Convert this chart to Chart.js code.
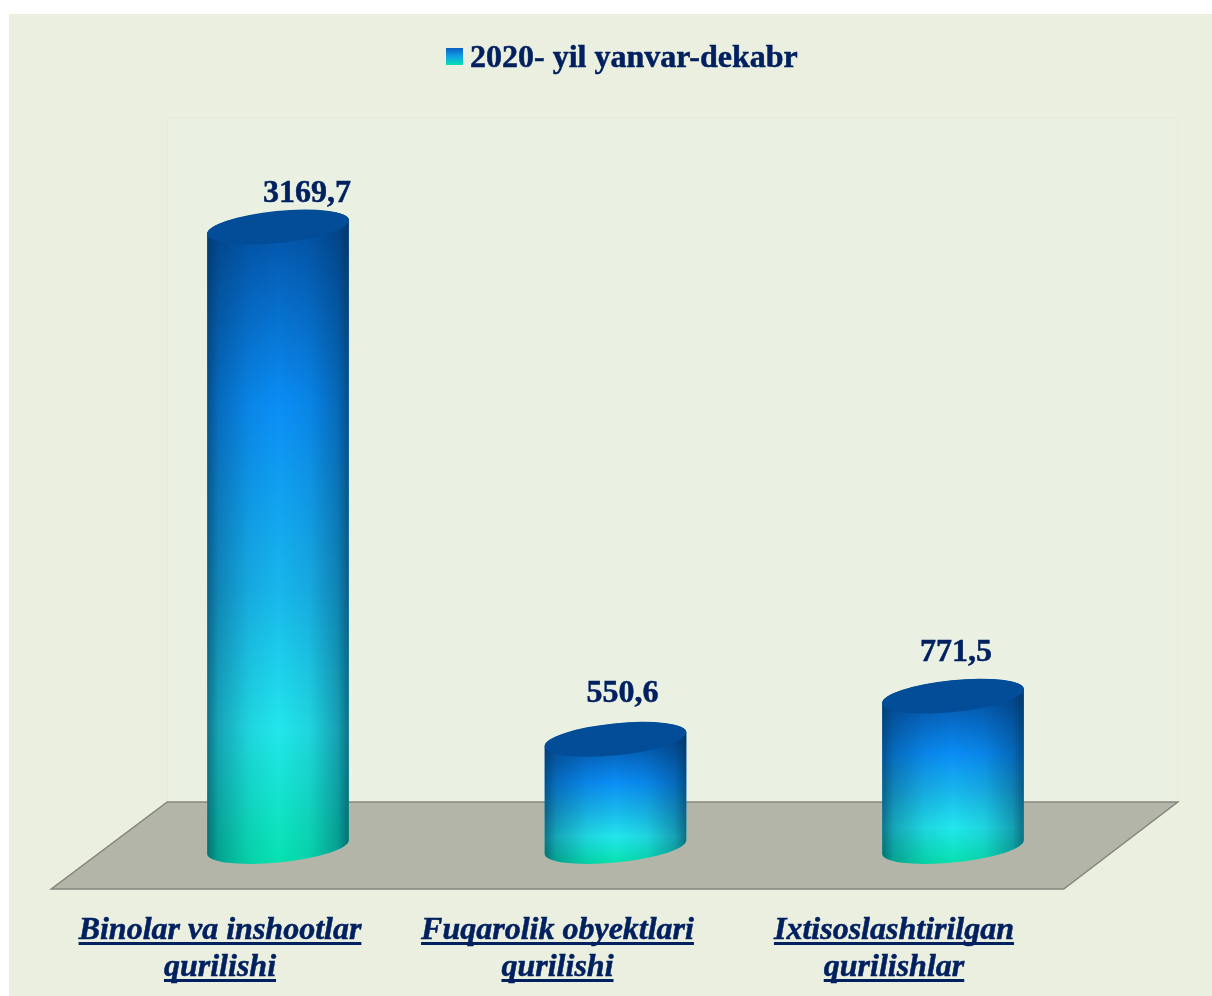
<!DOCTYPE html>
<html>
<head>
<meta charset="utf-8">
<title>2020- yil yanvar-dekabr</title>
<script src="https://cdn.jsdelivr.net/npm/chart.js@4"></script>
<style>
    html, body { margin: 0; padding: 0; background: #ffffff; }
    #contenedor { width: 1212px; height: 996px; }
</style>
</head>
<body>
<div id="contenedor"><canvas id="grafica" width="1212" height="996"></canvas></div>
<script>
var categorias = [['Binolar va inshootlar', 'qurilishi'], ['Fuqarolik obyektlari', 'qurilishi'], ['Ixtisoslashtirilgan', 'qurilishlar']];
var valores = [3169.7, 550.6, 771.5];
var nombreSerie = '2020- yil yanvar-dekabr';

var colorTexto = '#002060';
var fondo = '#ebefdf';
var PROF_X = 58, PROF_FONDO = 45, PROF_FRENTE = 42;
// desplazamiento de la etiqueta de valor respecto al centro de la tapa
var offsetEtiquetas = [[29, -33], [7, -46], [3, -43]];

function degradadoCuerpo(ctx, y0, y1) {
    // en las barras cortas la zona brillante cae algo mas abajo
    var brillo = (y1 - y0) < 300 ? 0.35 : 0.28;
    var g = ctx.createLinearGradient(0, y0, 0, y1);
    g.addColorStop(0, '#0354a8');
    g.addColorStop(brillo, '#0a8ef6');
    g.addColorStop(0.57, '#18b6ec');
    g.addColorStop(0.79, '#22e6ec');
    g.addColorStop(1, '#06e2b0');
    return g;
}

// Texto con un pequeño trazo para que pese como en el original
function textoGrueso(ctx, texto, x, y) {
    ctx.lineWidth = 0.5;
    ctx.strokeStyle = colorTexto;
    ctx.strokeText(texto, x, y);
    ctx.fillText(texto, x, y);
}

// Funcion para pintar un cilindro sobre la barra que calcula Chart.js
function pintaCilindro(ctx, barra) {
    var a = barra.width / 2 + 0.3, b = 15.5, rot = -5.8 * Math.PI / 180;
    var t0 = Math.atan2(-b * Math.sin(rot), a * Math.cos(rot));
    var dx = a * Math.cos(t0) * Math.cos(rot) - b * Math.sin(t0) * Math.sin(rot);
    var dy = a * Math.cos(t0) * Math.sin(rot) + b * Math.sin(t0) * Math.cos(rot);
    var x = barra.x, yTop = barra.y, yBase = barra.base;

    ctx.save();
    ctx.beginPath();
    ctx.moveTo(x - dx, yTop - dy);
    ctx.lineTo(x - dx, yBase - dy);
    ctx.ellipse(x, yBase, a, b, rot, t0 + Math.PI, t0, true);
    ctx.lineTo(x + dx, yTop + dy);
    ctx.ellipse(x, yTop, a, b, rot, t0, t0 + Math.PI, true);
    ctx.closePath();
    ctx.fillStyle = degradadoCuerpo(ctx, yTop, yBase + b);
    ctx.fill();

    // sombra lateral
    var s = ctx.createLinearGradient(x - dx, 0, x + dx, 0);
    s.addColorStop(0, 'rgba(0,40,70,0.6)');
    s.addColorStop(0.08, 'rgba(0,40,80,0.34)');
    s.addColorStop(0.3, 'rgba(0,40,80,0.09)');
    s.addColorStop(0.5, 'rgba(0,40,80,0)');
    s.addColorStop(0.72, 'rgba(0,40,80,0.09)');
    s.addColorStop(0.92, 'rgba(0,40,80,0.36)');
    s.addColorStop(1, 'rgba(0,40,70,0.62)');
    ctx.fillStyle = s;
    ctx.fill();
    ctx.restore();

    // tapa
    ctx.beginPath();
    ctx.ellipse(x, yTop, a, b + 0.5, rot, 0, Math.PI * 2);
    ctx.fillStyle = '#024c98';
    ctx.fill();
}

var escenario = {
    id: 'escenario',
    beforeDraw: function (chart) {
        var ctx = chart.ctx, area = chart.chartArea;
        var base = chart.scales.y.getPixelForValue(0);
        var fondoIzq = area.left + PROF_X, fondoDer = area.right + PROF_X - 2;
        ctx.save();
        ctx.fillStyle = fondo;
        ctx.fillRect(9, 14, chart.width - 9, chart.height - 14);

        // pared del fondo
        ctx.fillStyle = '#eaf0e2';
        ctx.fillRect(fondoIzq, 118, fondoDer - fondoIzq, base - PROF_FONDO - 118);
        ctx.strokeStyle = '#e5ebd8';
        ctx.lineWidth = 1;
        ctx.strokeRect(fondoIzq, 118, fondoDer - fondoIzq, base - PROF_FONDO - 118);

        // suelo
        ctx.beginPath();
        ctx.moveTo(fondoIzq, base - PROF_FONDO);
        ctx.lineTo(fondoDer, base - PROF_FONDO);
        ctx.lineTo(area.right - PROF_X, base + PROF_FRENTE);
        ctx.lineTo(area.left - PROF_X, base + PROF_FRENTE);
        ctx.closePath();
        ctx.fillStyle = '#b2b5a8';
        ctx.fill();
        ctx.strokeStyle = '#85877f';
        ctx.lineWidth = 1.5;
        ctx.stroke();
        ctx.restore();
    },
    afterDatasetsDraw: function (chart) {
        var ctx = chart.ctx;
        var barras = chart.getDatasetMeta(0).data;
        var escalaX = chart.scales.x;

        barras.forEach(function (barra, i) {
            pintaCilindro(ctx, barra);
        });

        ctx.save();
        ctx.fillStyle = colorTexto;

        // etiquetas de valor
        ctx.font = 'bold 32px "Liberation Serif"';
        ctx.textAlign = 'center';
        ctx.textBaseline = 'middle';
        barras.forEach(function (barra, i) {
            var texto = valores[i].toFixed(1).replace('.', ',');
            textoGrueso(ctx, texto, barra.x + offsetEtiquetas[i][0], barra.y + offsetEtiquetas[i][1]);
        });

        // categorias subrayadas
        ctx.font = 'italic bold 32px "Liberation Serif"';
        ctx.textBaseline = 'alphabetic';
        categorias.forEach(function (lineas, i) {
            var x = escalaX.getPixelForValue(i) - PROF_X - (i === 2 ? 1 : 0);
            lineas.forEach(function (linea, j) {
                var y = 939 + j * 37;
                var ancho = ctx.measureText(linea).width;
                textoGrueso(ctx, linea, x, y);
                ctx.fillRect(x - ancho / 2, y + 3, ancho, 3);
            });
        });

        // leyenda
        var g = ctx.createLinearGradient(0, 48, 0, 65);
        g.addColorStop(0, '#0a60c0');
        g.addColorStop(0.5, '#12a0e8');
        g.addColorStop(1, '#06e0b0');
        ctx.fillStyle = g;
        ctx.fillRect(446, 48, 17, 17);
        ctx.fillStyle = colorTexto;
        ctx.font = 'bold 32px "Liberation Serif"';
        ctx.textAlign = 'left';
        ctx.textBaseline = 'alphabetic';
        textoGrueso(ctx, nombreSerie, 470, 67);
        ctx.restore();
    }
};

new Chart(document.getElementById('grafica'), {
    type: 'bar',
    data: {
        labels: categorias,
        datasets: [{
            label: nombreSerie,
            data: valores,
            backgroundColor: 'rgba(0,0,0,0)',
            barPercentage: 1,
            categoryPercentage: 0.42
        }]
    },
    options: {
        responsive: false,
        animation: false,
        layout: { padding: { left: 109.25, right: 90.25, top: 162.4, bottom: 149 } },
        plugins: { legend: { display: false }, tooltip: { enabled: false } },
        scales: {
            x: { display: false },
            y: { display: false, min: 0, max: 3500 }
        }
    },
    plugins: [escenario]
});
</script>
</body>
</html>
